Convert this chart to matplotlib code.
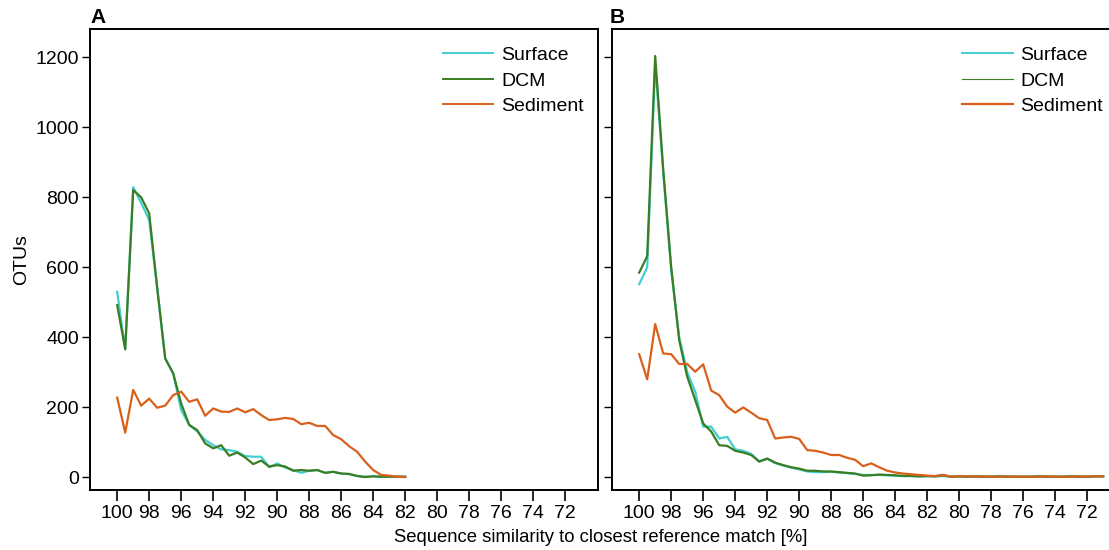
import numpy as np
import matplotlib
matplotlib.use("Agg")
import matplotlib.pyplot as plt
from matplotlib.lines import Line2D

plt.rcParams['font.family'] = ['Liberation Sans', 'DejaVu Sans']

# similarity grid (%), 0.5 % bins
sim_a = np.arange(100, 81.9, -0.5)
sim_b = np.arange(100, 70.9, -0.5)

# panel A
surface_a = [529, 365, 828, 783, 734, 540, 339, 296, 191, 149, 130, 106, 91, 79, 77, 72,
             60, 58, 58, 28, 39, 27, 20, 12, 18, 20, 12, 15, 10, 8, 3, 1, 2, 1, 1, 1, 1]
dcm_a = [491, 365, 820, 799, 753, 540, 339, 296, 210, 149, 134, 96, 82, 91, 61, 70,
         56, 37, 47, 30, 34, 30, 18, 20, 18, 20, 12, 15, 10, 9, 3, 0, 2, 1, 1, 1, 1]
sediment_a = [227, 127, 249, 204, 224, 198, 204, 234, 244, 215, 222, 175, 196, 187, 186, 196,
              185, 194, 177, 163, 165, 169, 166, 151, 155, 146, 146, 120, 108, 88, 72, 44,
              20, 6, 4, 1, 0]

# panel B
surface_b = [551, 599, 1182, 870, 590, 400, 300, 244, 144, 144, 110, 115, 79, 75, 66, 45,
             52, 40, 33, 27, 22, 16, 14, 14, 15, 13, 11, 9, 6, 6, 6, 5, 4, 3, 3, 2,
             2, 2, 3, 1, 2, 1, 2, 1, 1, 2, 1, 1, 1, 1, 2, 1, 1, 1, 2, 1, 1, 2, 2]
dcm_b = [584, 631, 1203, 880, 600, 391, 287, 220, 153, 130, 91, 89, 75, 70, 63, 44,
         53, 41, 34, 28, 24, 18, 18, 16, 16, 14, 12, 10, 4, 5, 7, 6, 5, 3, 3, 2,
         3, 2, 5, 1, 2, 1, 2, 1, 1, 2, 1, 1, 1, 1, 2, 1, 1, 1, 2, 1, 1, 2, 2]
sediment_b = [351, 279, 437, 353, 351, 323, 323, 301, 322, 247, 234, 201, 184, 199, 184, 168,
              163, 110, 113, 115, 109, 77, 75, 70, 63, 63, 55, 49, 31, 39, 28, 18, 13, 10, 8, 6,
              4, 3, 6, 1, 2, 2, 1, 2, 1, 1, 2, 1, 1, 1, 1, 2, 1, 1, 1, 2, 1, 2, 2]

xticks = list(range(100, 71, -2))
c_surf = '#3fcfd3'
c_dcm = '#3b7d23'
c_sed = '#d9601b'
fs = 14

fig = plt.figure(figsize=(11.09, 5.5), dpi=100)
W = 508 / 1109
ax_a = fig.add_axes([90 / 1109, 60 / 550, W, 461 / 550])
ax_b = fig.add_axes([612 / 1109, 60 / 550, W, 461 / 550])

for ax, x, s, d, sd in [(ax_a, sim_a, surface_a, dcm_a, sediment_a),
                        (ax_b, sim_b, surface_b, dcm_b, sediment_b)]:
    ax.plot(x, s, color=c_surf, lw=1.6)
    ax.plot(x, d, color=c_dcm, lw=1.6)
    ax.plot(x, sd, color=c_sed, lw=1.6)
    ax.set_xlim(101.7, 69.95)
    ax.set_ylim(-37, 1280)
    ax.set_xticks(xticks)
    ax.set_yticks([0, 200, 400, 600, 800, 1000, 1200])
    ax.tick_params(axis='x', direction='out', length=8, width=1.2, labelsize=fs, pad=3)
    ax.tick_params(axis='y', direction='out', length=6, width=1.0, labelsize=fs, pad=2)
    for sp in ax.spines.values():
        sp.set_linewidth(1.4)

ax_b.tick_params(axis='y', labelleft=False)
ax_a.set_ylabel('OTUs', fontsize=fs)
ax_a.yaxis.set_label_coords(-0.117, 0.5)

h_a = [Line2D([], [], color=c_surf, lw=1.4), Line2D([], [], color=c_dcm, lw=1.4),
       Line2D([], [], color=c_sed, lw=1.4)]
h_b = [Line2D([], [], color=c_surf, lw=1.4), Line2D([], [], color=c_dcm, lw=0.8),
       Line2D([], [], color=c_sed, lw=1.6)]
labels = ['Surface', 'DCM', 'Sediment']
ax_a.legend(h_a, labels, loc='upper left', frameon=False, fontsize=fs,
            handlelength=2.6, handletextpad=0.4, labelspacing=0.4,
            bbox_to_anchor=(0.66, 1.0))
ax_b.legend(h_b, labels, loc='upper left', frameon=False, fontsize=fs,
            handlelength=2.6, handletextpad=0.4, labelspacing=0.4,
            bbox_to_anchor=(0.655, 1.0))

ax_a.text(0.0, 1.005, 'A', transform=ax_a.transAxes, fontsize=15, fontweight='bold',
          ha='left', va='bottom')
ax_b.text(-0.005, 1.005, 'B', transform=ax_b.transAxes, fontsize=15, fontweight='bold',
          ha='left', va='bottom')

fig.text(0.542, 12 / 550, 'Sequence similarity to closest reference match [%]',
         fontsize=13.3, ha='center', va='center')

fig.savefig('out.png', dpi=100)
